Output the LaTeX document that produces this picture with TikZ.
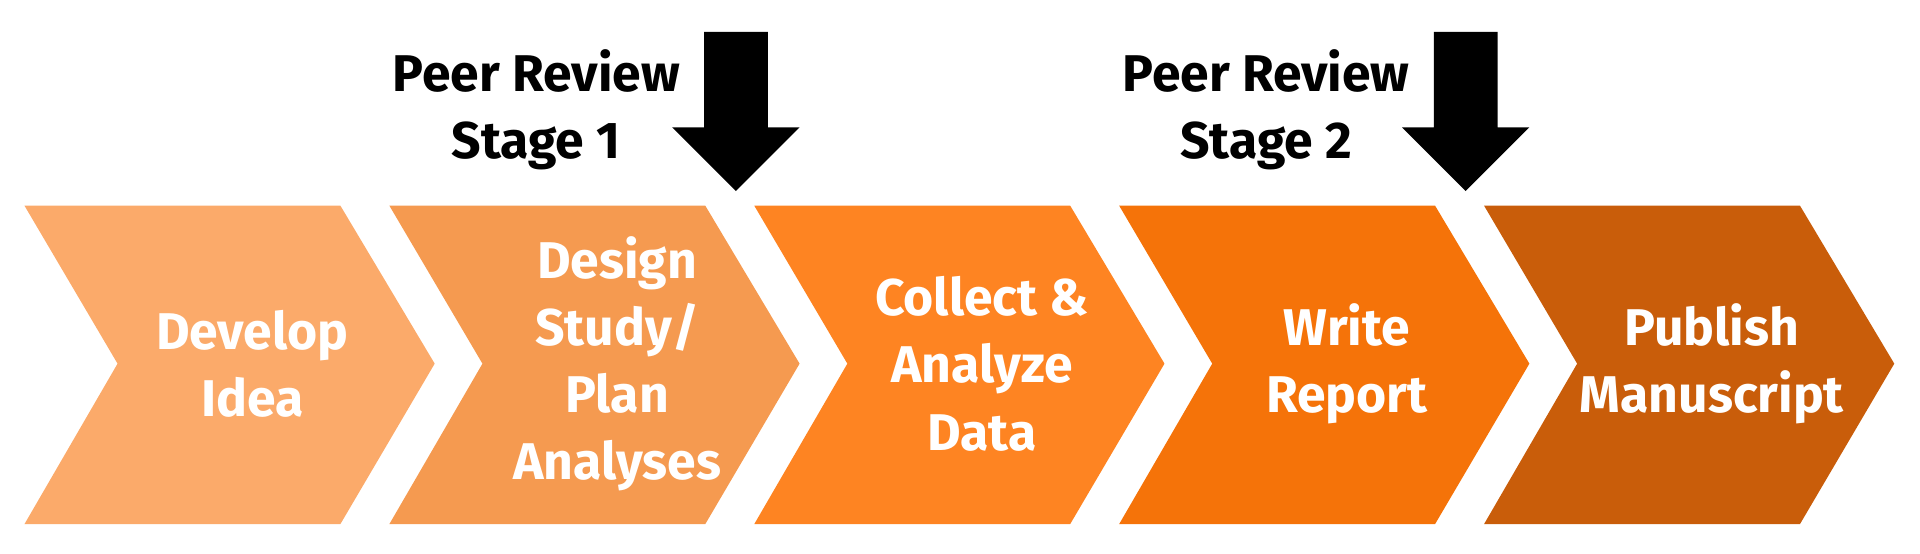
\documentclass[tikz,border=0pt]{standalone}
\usepackage{fontspec}
\setmainfont{Fira Sans}
\usetikzlibrary{positioning}
\definecolor{stepA}{HTML}{FBAA6A}
\definecolor{stepB}{HTML}{F59A50}
\definecolor{stepC}{HTML}{FE8422}
\definecolor{stepD}{HTML}{F57309}
\definecolor{stepE}{HTML}{C95D0A}
\tikzset{
  steptext/.style={text=white, font=\bfseries\fontsize{12pt}{15.6pt}\selectfont, align=center},
  reviewtext/.style={text=black, font=\bfseries\fontsize{12pt}{15.6pt}\selectfont, align=center}
}
\begin{document}
\begin{tikzpicture}[x=0.01cm, y=0.01cm]
          \useasboundingbox (0,0) rectangle (1568,452);
          % chevrons
          \foreach \i/\col/\txt in {0/stepA/{Develop\\Idea},
                                    1/stepB/{Design\\Study/\\Plan\\Analyses},
                                    2/stepC/{Collect \&\\Analyze\\Data},
                                    3/stepD/{Write\\Report},
                                    4/stepE/{Publish\\Manuscript}} {
            \pgfmathsetmacro{\xo}{20+298*\i}
            \fill[\col] (\xo,284) -- (\xo+258,284) -- (\xo+335,155) --
                        (\xo+258,24) -- (\xo,24) -- (\xo+76,155) -- cycle;
            \node[steptext] (step\i) at (\xo+186,155) {\txt};
          }
          % review arrows
          \foreach \j/\xa in {1/601, 2/1197} {
            \fill[black] (\xa-26,426) -- (\xa+26,426) -- (\xa+26,348) --
                         (\xa+52,348) -- (\xa,296) -- (\xa-52,348) --
                         (\xa-26,348) -- cycle;
            \node[reviewtext] (review\j) at (\xa-163,362) {Peer Review\\Stage \j};
          }
        \end{tikzpicture}
\end{document}
